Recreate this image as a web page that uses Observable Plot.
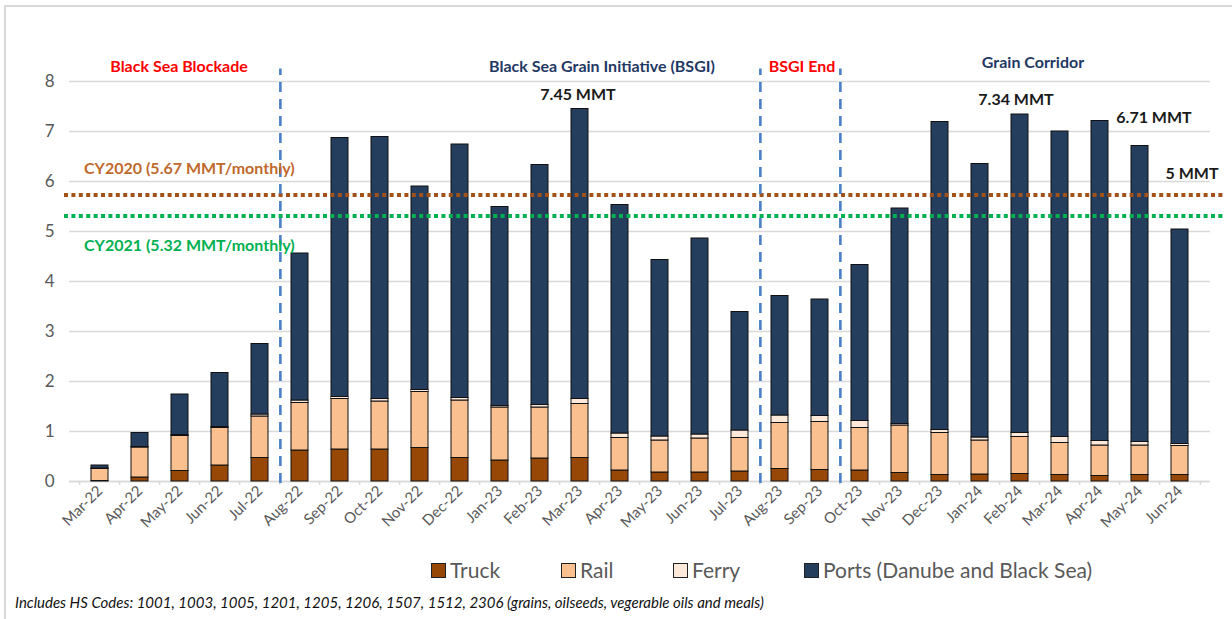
<!DOCTYPE html>
<html>
<head>
<meta charset="utf-8">
<script src="https://cdn.jsdelivr.net/npm/d3@7"></script>
<script src="https://cdn.jsdelivr.net/npm/@observablehq/plot@0.6"></script>
<style>
  body { margin: 0; background: #fff; font-family: Lato, "Open Sans", sans-serif; }
  #wrap { position: relative; width: 1232px; height: 619px; overflow: hidden; background: #fff; }
  #frame { position: absolute; left: 4px; top: 5px; width: 1300px; height: 700px;
           border-left: 2px solid #d9d9d9; border-top: 2px solid #d9d9d9; }
  #chart { position: absolute; left: 0; top: 0; }
  .lg { position: absolute; top: 557px; display: flex; align-items: center;
        font-size: 21px; color: #595959; line-height: 26px; white-space: nowrap; }
  .sw { width: 13px; height: 13px; border: 1px solid #222; margin-right: 4px; }
  #caption { position: absolute; left: 15px; top: 593px; font-style: italic; font-size: 15px;
             color: #111; white-space: nowrap; }
</style>
</head>
<body>
<div id="wrap">
  <div id="frame"></div>
  <div id="chart"></div>
  <div id="legend"></div>
  <div id="caption"></div>
</div>
<script>
// ---- data ----
const months = ["Mar-22","Apr-22","May-22","Jun-22","Jul-22","Aug-22","Sep-22","Oct-22","Nov-22","Dec-22",
  "Jan-23","Feb-23","Mar-23","Apr-23","May-23","Jun-23","Jul-23","Aug-23","Sep-23","Oct-23","Nov-23","Dec-23",
  "Jan-24","Feb-24","Mar-24","Apr-24","May-24","Jun-24"];
const truck = [0.01,0.08,0.21,0.32,0.47,0.62,0.64,0.64,0.67,0.47,0.42,0.46,0.47,0.22,0.18,0.18,0.20,0.25,0.23,0.22,0.17,0.13,0.14,0.15,0.13,0.11,0.13,0.13];
const rail  = [0.24,0.60,0.70,0.75,0.83,0.95,1.01,0.96,1.12,1.15,1.06,1.02,1.08,0.65,0.64,0.68,0.67,0.92,0.96,0.85,0.95,0.84,0.68,0.74,0.64,0.61,0.59,0.58];
const ferry = [0.01,0.01,0.02,0.02,0.04,0.05,0.04,0.05,0.04,0.05,0.03,0.05,0.10,0.09,0.08,0.08,0.15,0.15,0.12,0.14,0.03,0.06,0.06,0.08,0.12,0.09,0.07,0.04];
const ports = [0.06,0.28,0.81,1.08,1.41,2.94,5.18,5.24,4.07,5.07,3.98,4.80,5.80,4.57,3.53,3.92,2.37,2.39,2.33,3.12,4.31,6.16,5.47,6.37,6.11,6.40,5.92,4.29];
const modes = ["Truck","Rail","Ferry","Ports (Danube and Black Sea)"];
const modeColors = ["#974706","#FAC090","#FDE9D9","#253E5E"];
const yTicks = [0,1,2,3,4,5,6,7,8];
const refLabels = ["CY2020 (5.67 MMT/monthly)","CY2021 (5.32 MMT/monthly)"];
const refLevels = [5.73, 5.31];          // as drawn in the picture
const refLabelY = [6.26, 4.72];
const dividerMonths = ["Jul-22","Jul-23","Sep-23"];   // dashed lines after these months
const periodNames = ["Black Sea Blockade","Black Sea Grain Initiative (BSGI)","BSGI End","Grain Corridor"];
const periodMonths = ["May-22","Mar-23","Aug-23","Feb-24"];
const periodColors = ["#FF0000","#1F3864","#FF0000","#1F3864"];
const periodY = [8.3, 8.3, 8.3, 8.38];
const calloutMonths = ["Mar-23","Feb-24","May-24","Jun-24"];
const calloutTexts = ["7.45 MMT","7.34 MMT","6.71 MMT","5 MMT"];
const caption = "Includes HS Codes: 1001, 1003, 1005, 1201, 1205, 1206, 1507, 1512, 2306 (grains, oilseeds, vegerable oils and meals)";

// ---- derived table ----
const series = [truck, rail, ferry, ports];
const rows = months.flatMap((m, i) => modes.map((mode, j) => ({month: m, mode, value: series[j][i]})));
const totals = new Map(months.map((m, i) => [m, truck[i] + rail[i] + ferry[i] + ports[i]]));

const half = 20.37; // half band step in px
const bold = {fontWeight: "bold", fontFamily: "Lato, sans-serif"};

function periodText(i, dx) {
  return Plot.text([periodNames[i]], {x: () => periodMonths[i], y: () => periodY[i], text: d => d,
    dx, fill: periodColors[i], fontSize: 16, ...bold});
}
function callout(i, dx, dy) {
  return Plot.text([calloutTexts[i]], {x: () => calloutMonths[i], y: () => totals.get(calloutMonths[i]),
    text: d => d, dx, dy, fill: "#1a1a1a", fontSize: 16, ...bold});
}

const chart = Plot.plot({
  width: 1232, height: 545,
  marginLeft: 69, marginRight: 22, marginTop: 51, marginBottom: 64,
  style: {fontFamily: "Lato, sans-serif", background: "transparent", overflow: "visible"},
  x: {domain: months, padding: 0.58, range: [57.2, 1221.8], label: null},
  y: {domain: [0, 8.6], label: null},
  color: {domain: modes, range: modeColors},
  marks: [
    Plot.gridY(yTicks, {stroke: "#d9d9d9", strokeOpacity: 1, strokeWidth: 1.3}),
    Plot.axisY(yTicks, {tickSize: 0, tickPadding: 15, fontSize: 17, fill: "#595959", label: null, tickFormat: d => String(d)}),
    Plot.axisX({tickSize: 0, tickRotate: -45, tickPadding: 7, fontSize: 15, fill: "#595959", label: null}),
    Plot.ruleY([0], {stroke: "#d9d9d9", strokeWidth: 1.5}),
    Plot.ruleX(months, {x: d => d, y1: 0, y2: -0.08, dx: -half, stroke: "#d9d9d9", strokeWidth: 1.5}),
    Plot.ruleX(months.slice(-1), {x: d => d, y1: 0, y2: -0.08, dx: half, stroke: "#d9d9d9", strokeWidth: 1.5}),
    Plot.barY(rows, {x: "month", y: "value", fill: "mode", stroke: "#111", strokeWidth: 1}),
    Plot.ruleY([refLevels[0]], {stroke: "#A0521A", strokeWidth: 4, strokeDasharray: "4,3.4", insetLeft: -5, insetRight: -15}),
    Plot.ruleY([refLevels[1]], {stroke: "#00B050", strokeWidth: 4, strokeDasharray: "4,3.4", insetLeft: -5, insetRight: -15}),
    Plot.ruleX(dividerMonths, {x: d => d, y1: -0.04, y2: 8.25, dx: half, stroke: "#4A80C8", strokeWidth: 2.6, strokeDasharray: "10,7"}),
    Plot.text([refLabels[0]], {x: () => months[0], y: () => refLabelY[0], text: d => d, dx: -16, textAnchor: "start",
      fill: "#C0692C", fontSize: 16, ...bold}),
    Plot.text([refLabels[1]], {x: () => months[0], y: () => refLabelY[1], text: d => d, dx: -16, textAnchor: "start",
      fill: "#00B050", fontSize: 16, ...bold}),
    periodText(0, -1), periodText(1, 22), periodText(2, 22), periodText(3, 13),
    callout(0, -2, -14), callout(1, -4, -15), callout(2, 14, -28), callout(3, 12, -56)
  ]
});
document.getElementById("chart").appendChild(chart);

// legend (HTML, below the SVG)
const legendLeft = [431, 561, 673, 804];
const legend = document.getElementById("legend");
modes.forEach((m, i) => {
  const it = document.createElement("div");
  it.className = "lg";
  it.style.left = legendLeft[i] + "px";
  const sw = document.createElement("span");
  sw.className = "sw";
  sw.style.background = modeColors[i];
  const tx = document.createElement("span");
  tx.textContent = m;
  it.appendChild(sw); it.appendChild(tx);
  legend.appendChild(it);
});
document.getElementById("caption").textContent = caption;
</script>
</body>
</html>
